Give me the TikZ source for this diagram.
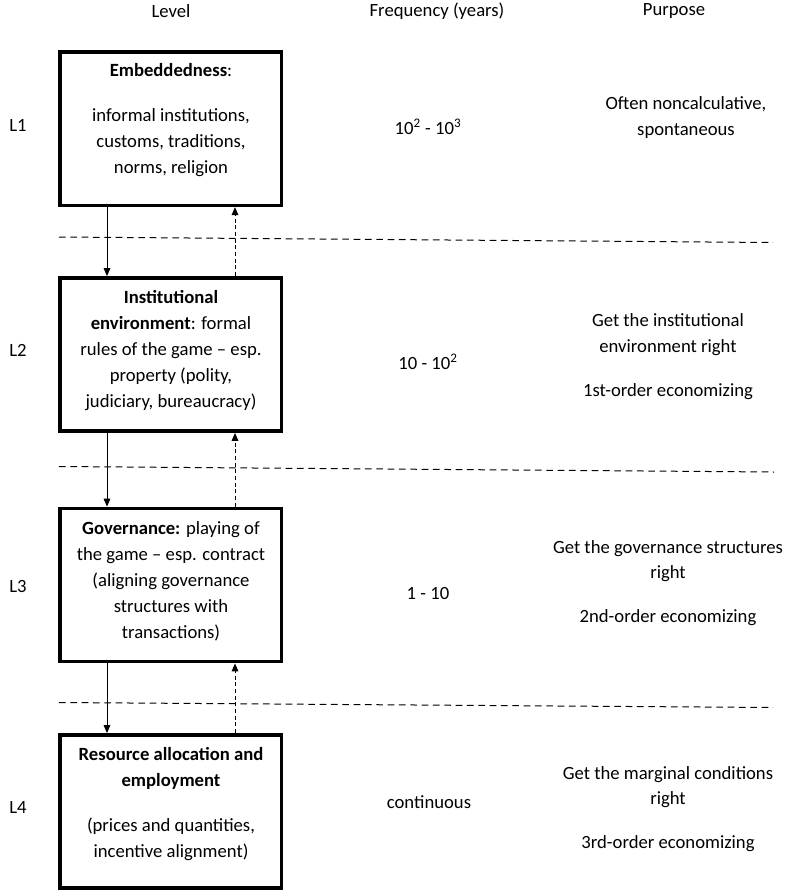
\documentclass[tikz,border=0pt]{standalone}
\usepackage{fontspec}
\setmainfont{Carlito}
\usetikzlibrary{arrows.meta}

\begin{document}
\begin{tikzpicture}[x=0.75pt,y=-0.75pt,>={Stealth[length=6pt,width=5pt,inset=0pt]},
  txt/.style={font=\fontsize{14pt}{19.5pt}\selectfont,align=center,inner sep=0pt},
  purp/.style={txt,font=\fontsize{14pt}{19pt}\selectfont},
  levelbox/.style={draw,line width=2.6pt,minimum width=166pt,minimum height=115pt,inner sep=0pt},
  sepline/.style={line width=0.75pt,dash pattern=on 5pt off 3.5pt},
  feedback/.style={->,line width=0.75pt,dash pattern=on 3pt off 2pt}]

  \useasboundingbox (0,0) rectangle (794,896);

  % 表头
  \node[txt] (hlevel) at (171,11) {Level};
  \node[txt] (hfreq) at (437,11) {Frequency (years)};
  \node[txt] (hpurp) at (674,11) {Purpose};

  % 四个层级的方框
  \node[levelbox] (l1) at (170.75,128.75) {};
  \node[levelbox] (l2) at (170.75,354.5) {};
  \node[levelbox] (l3) at (170.75,585) {};
  \node[levelbox] (l4) at (170.75,811.5) {};

  % 方框内文字
  \node[txt] (l1txt) at (171,120) {\textbf{Embeddedness}:\\[14pt] informal institutions,\\ customs, traditions,\\ norms, religion};
  \node[txt] (l2txt) at (171,351) {\textbf{Institutional}\\ \textbf{environment}: formal\\ rules of the game – esp.\\ property (polity,\\ judiciary, bureaucracy)};
  \node[txt] (l3txt) at (171,581) {\textbf{Governance:} playing of\\ the game – esp. contract\\ (aligning governance\\ structures with\\ transactions)};
  \node[txt] (l4txt) at (171,804) {\textbf{Resource allocation and}\\ \textbf{employment}\\[14pt] (prices and quantities,\\ incentive alignment)};

  % 左侧标签 L1--L4
  \node[txt] (lab1) at (18,125) {L1};
  \node[txt] (lab2) at (18,350) {L2};
  \node[txt] (lab3) at (18,586) {L3};
  \node[txt] (lab4) at (18,807) {L4};

  % 频率
  \node[txt] (f1) at (428,127) {10\textsuperscript{2} - 10\textsuperscript{3}};
  \node[txt] (f2) at (428,362) {10 - 10\textsuperscript{2}};
  \node[txt] (f3) at (428,593) {1 - 10};
  \node[txt] (f4) at (429,802) {continuous};

  % 目的
  \node[purp] (p1) at (686,117.5) {Often noncalculative,\\ spontaneous};
  \node[purp] (p2) at (668,356.5) {Get the institutional\\ environment right\\[14pt] 1st-order economizing};
  \node[purp] (p3) at (668,583) {Get the governance structures\\ right\\[14pt] 2nd-order economizing};
  \node[purp] (p4) at (668,809) {Get the marginal conditions\\ right\\[14pt] 3rd-order economizing};

  % 虚线分隔
  \draw[sepline] (59,237) -- (773,242.5);
  \draw[sepline] (59,466.5) -- (774,472);
  \draw[sepline] (59,702.5) -- (773,707.5);

  % 上下箭头
  \coordinate (dn) at (107,0);
  \coordinate (up) at (235,0);
  \draw[->,line width=0.75pt] (l1.south -| dn) -- (l2.north -| dn);
  \draw[->,line width=0.75pt] (l2.south -| dn) -- (l3.north -| dn);
  \draw[->,line width=0.75pt] (l3.south -| dn) -- (l4.north -| dn);
  \draw[feedback] (l2.north -| up) -- (l1.south -| up);
  \draw[feedback] (l3.north -| up) -- (l2.south -| up);
  \draw[feedback] (l4.north -| up) -- (l3.south -| up);

\end{tikzpicture}
\end{document}
